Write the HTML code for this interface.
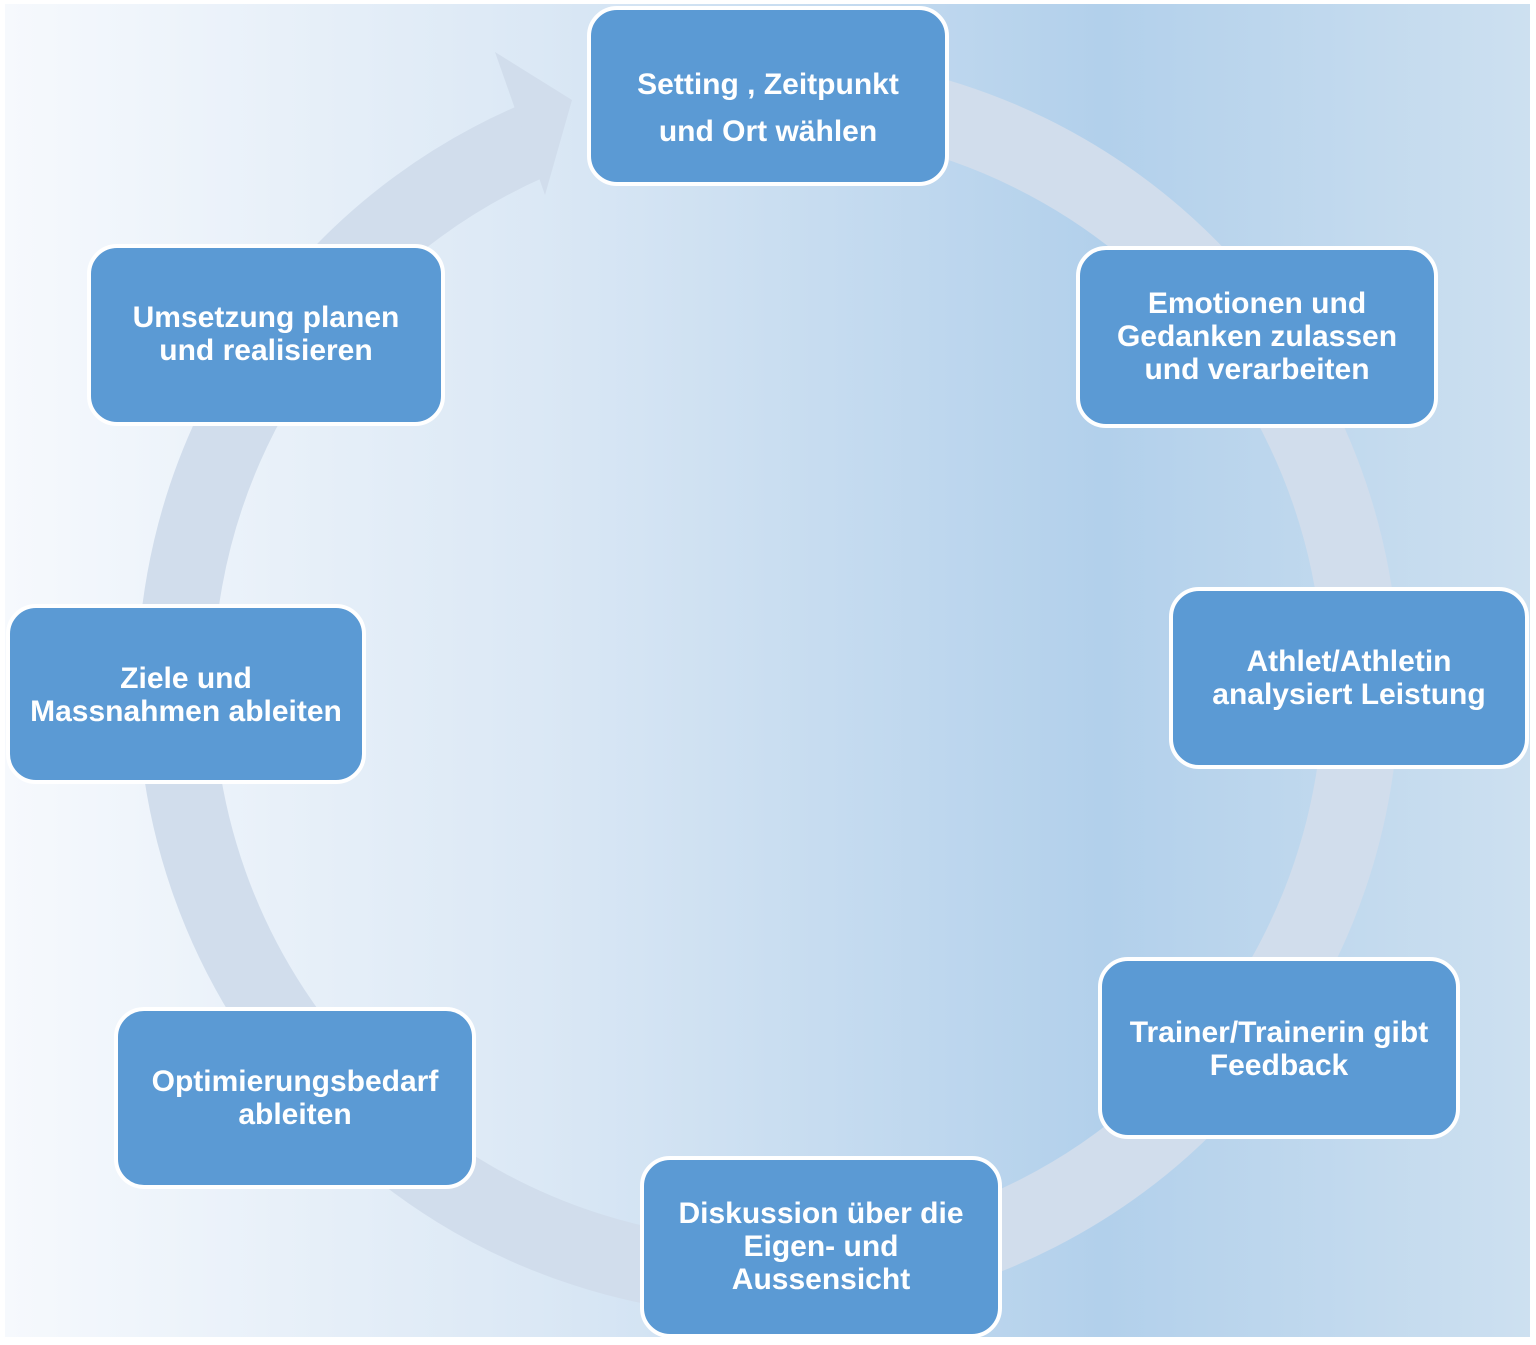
<!DOCTYPE html>
<html><head><meta charset="utf-8"><style>
html,body{margin:0;padding:0;background:#fff;}
svg{display:block}
text{font-family:"Liberation Sans",sans-serif;font-weight:bold;font-size:30px;fill:#fff;text-anchor:middle}
</style></head><body>
<svg width="1536" height="1345" viewBox="0 0 1536 1345" xmlns="http://www.w3.org/2000/svg">
<defs>
<linearGradient id="bg" x1="0" y1="0" x2="1" y2="0">
<stop offset="0" stop-color="#f6f9fd"/>
<stop offset="0.35" stop-color="#dbe8f5"/>
<stop offset="0.72" stop-color="#b2d0eb"/>
<stop offset="1" stop-color="#cde0f0"/>
</linearGradient>
</defs>
<rect x="5" y="4" width="1525" height="1333" fill="url(#bg)"/>
<path d="M530 142 A593 593 0 1 0 768 92" fill="none" stroke="#d1ddec" stroke-width="76"/>
<polygon points="495,52 572,100 545,195 520,123" fill="#d1ddec"/>
<g fill="#5b9ad4" stroke="#fff" stroke-width="4">
<rect x="589" y="8" width="358" height="176" rx="28"/>
<rect x="1078" y="248" width="358" height="178" rx="28"/>
<rect x="1171" y="589" width="356" height="178" rx="28"/>
<rect x="1100" y="959" width="358" height="178" rx="28"/>
<rect x="642" y="1158" width="358" height="178" rx="28"/>
<rect x="116" y="1009" width="358" height="178" rx="28"/>
<rect x="8" y="606" width="356" height="176" rx="28"/>
<rect x="89" y="246" width="354" height="178" rx="28"/>
</g>
<text x="768" y="94">Setting , Zeitpunkt</text>
<text x="768" y="141">und Ort wählen</text>
<text x="1257" y="313">Emotionen und</text>
<text x="1257" y="346">Gedanken zulassen</text>
<text x="1257" y="379">und verarbeiten</text>
<text x="1349" y="671">Athlet/Athletin</text>
<text x="1349" y="704">analysiert Leistung</text>
<text x="1279" y="1042">Trainer/Trainerin gibt</text>
<text x="1279" y="1075">Feedback</text>
<text x="821" y="1223">Diskussion über die</text>
<text x="821" y="1256">Eigen- und</text>
<text x="821" y="1289">Aussensicht</text>
<text x="295" y="1091">Optimierungsbedarf</text>
<text x="295" y="1124">ableiten</text>
<text x="186" y="688">Ziele und</text>
<text x="186" y="721">Massnahmen ableiten</text>
<text x="266" y="327">Umsetzung planen</text>
<text x="266" y="360">und realisieren</text>
</svg>
</body></html>
